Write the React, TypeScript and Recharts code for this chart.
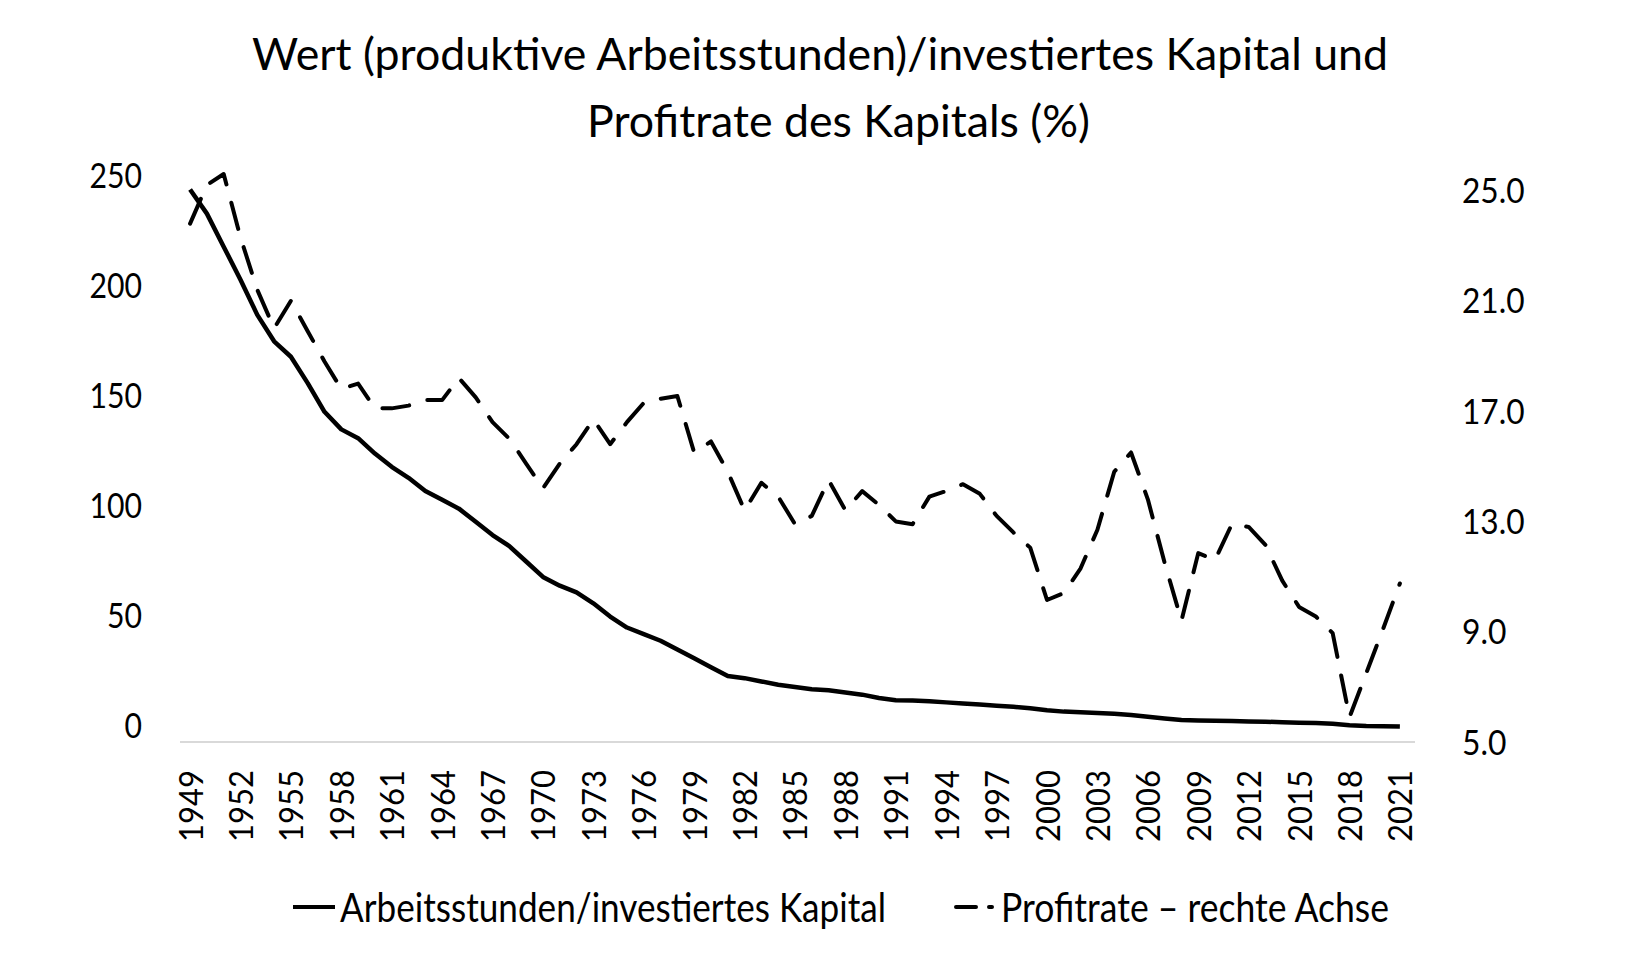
import { LineChart, Line, XAxis, YAxis, Legend } from "recharts";

const years = [
  1949, 1950, 1951, 1952, 1953, 1954, 1955, 1956, 1957, 1958,
  1959, 1960, 1961, 1962, 1963, 1964, 1965, 1966, 1967, 1968,
  1969, 1970, 1971, 1972, 1973, 1974, 1975, 1976, 1977, 1978,
  1979, 1980, 1981, 1982, 1983, 1984, 1985, 1986, 1987, 1988,
  1989, 1990, 1991, 1992, 1993, 1994, 1995, 1996, 1997, 1998,
  1999, 2000, 2001, 2002, 2003, 2004, 2005, 2006, 2007, 2008,
  2009, 2010, 2011, 2012, 2013, 2014, 2015, 2016, 2017, 2018,
  2019, 2020, 2021,
];

// linke Achse
const arbeitsstunden = [
  251, 240, 225, 210, 194, 182, 175, 163, 150, 142,
  138, 131, 125, 120, 114, 110, 106, 100, 94, 89,
  82, 75, 71, 68, 63, 57, 52, 49, 46, 42,
  38, 34, 30, 29, 27.5, 26, 25, 24, 23.5, 22.5,
  21.5, 20, 19, 18.8, 18.5, 18, 17.5, 17, 16.5, 16,
  15.3, 14.4, 13.8, 13.5, 13.2, 12.8, 12.3, 11.5, 10.7, 10,
  9.8, 9.6, 9.5, 9.3, 9.2, 9.0, 8.8, 8.6, 8.3, 7.6,
  7.3, 7.2, 7.0,
];

// rechte Achse
const profitrate = [
  23.8, 25.2, 25.6, 23.3, 21.4, 20.0, 21.0, 19.9, 18.8, 17.8,
  18.0, 17.1, 17.1, 17.2, 17.4, 17.4, 18.2, 17.5, 16.6, 16.0,
  15.1, 14.2, 15.1, 15.8, 16.7, 15.8, 16.6, 17.3, 17.45, 17.55,
  15.5, 15.9, 14.8, 13.4, 14.4, 13.9, 12.9, 13.2, 14.5, 13.4,
  14.1, 13.6, 13.0, 12.9, 13.9, 14.1, 14.35, 14.0, 13.2, 12.6,
  12.05, 10.15, 10.4, 11.3, 12.7, 14.8, 15.5, 13.8, 11.5, 9.4,
  11.85, 11.6, 12.9, 12.8, 12.15, 10.85, 9.9, 9.55, 8.95, 5.9,
  7.5, 9.1, 10.75,
];

const yearTicks = [
  1949, 1952, 1955, 1958, 1961, 1964, 1967, 1970, 1973, 1976, 1979, 1982, 1985,
  1988, 1991, 1994, 1997, 2000, 2003, 2006, 2009, 2012, 2015, 2018, 2021,
];
const leftTicks = [0, 50, 100, 150, 200, 250];
const rightTicks = [5, 9, 13, 17, 21, 25];

const titleLines = [
  "Wert (produktive Arbeitsstunden)/investiertes Kapital und",
  "Profitrate des Kapitals (%)",
];

const data = years.map((year, i) => ({
  year,
  stunden: arbeitsstunden[i],
  profit: profitrate[i],
}));

const FONT = "Lato, 'Open Sans', sans-serif";

function YearTick({ x, y, payload }: any) {
  return (
    <g transform={`translate(${x},${y + 20})`}>
      <text
        transform="rotate(-90)"
        textAnchor="end"
        dominantBaseline="central"
        fontFamily={FONT}
        fontSize={32}
        fill="#000"
        textLength={72}
        lengthAdjust="spacingAndGlyphs"
      >
        {payload.value}
      </text>
    </g>
  );
}

function LeftTick({ x, y, payload }: any) {
  const label = String(payload.value);
  return (
    <text
      x={x - 30}
      y={y - 18}
      textAnchor="end"
      dominantBaseline="central"
      fontFamily={FONT}
      fontSize={35}
      fill="#000"
      textLength={label.length * 17.5}
      lengthAdjust="spacingAndGlyphs"
    >
      {label}
    </text>
  );
}

function RightTick({ x, y, payload }: any) {
  const label = Number(payload.value).toFixed(1);
  return (
    <text
      x={x + 39}
      y={y - 1}
      textAnchor="start"
      dominantBaseline="central"
      fontFamily={FONT}
      fontSize={34}
      fill="#000"
      textLength={(label.length - 1) * 18.2 + 8}
      lengthAdjust="spacingAndGlyphs"
    >
      {label}
    </text>
  );
}

function LegendContent({ payload }: any) {
  const items = payload || [];
  return (
    <svg width={1643} height={90} style={{ display: "block" }}>
      <line x1={293} y1={45} x2={335} y2={45} stroke="#000" strokeWidth={4} />
      <text
        x={340}
        y={60}
        fontFamily={FONT}
        fontSize={40}
        fill="#000"
        textLength={546}
        lengthAdjust="spacingAndGlyphs"
      >
        {items[0] ? items[0].value : ""}
      </text>
      <line
        x1={956}
        y1={45}
        x2={992}
        y2={45}
        stroke="#000"
        strokeWidth={4}
        strokeDasharray="20 13"
        strokeLinecap="round"
      />
      <text
        x={1001}
        y={60}
        fontFamily={FONT}
        fontSize={40}
        fill="#000"
        textLength={388}
        lengthAdjust="spacingAndGlyphs"
      >
        {items[1] ? items[1].value : ""}
      </text>
    </svg>
  );
}

export default function App() {
  return (
    <div style={{ position: "absolute", left: 0, top: 0, width: 1643, height: 957, background: "#fff" }}>
      <LineChart
        width={1643}
        height={957}
        data={data}
        margin={{ top: 174, right: 0, bottom: 105, left: 0 }}
      >
        <XAxis
          dataKey="year"
          type="number"
          domain={[1948.4, 2021.9]}
          ticks={yearTicks}
          interval={0}
          height={110}
          tickLine={false}
          axisLine={{ stroke: "#d9d9d9", strokeWidth: 2 }}
          tick={<YearTick />}
        />
        <YAxis
          yAxisId="left"
          domain={[0, 258]}
          ticks={leftTicks}
          interval={0}
          width={180}
          axisLine={false}
          tickLine={false}
          tick={<LeftTick />}
        />
        <YAxis
          yAxisId="right"
          orientation="right"
          domain={[5, 25.6]}
          ticks={rightTicks}
          interval={0}
          width={228}
          axisLine={false}
          tickLine={false}
          tick={<RightTick />}
        />
        <Legend
          layout="horizontal"
          verticalAlign="middle"
          align="center"
          wrapperStyle={{ top: 862, left: 0, width: 1643, height: 90 }}
          content={<LegendContent />}
        />
        <Line
          yAxisId="left"
          dataKey="stunden"
          name="Arbeitsstunden/investiertes Kapital"
          stroke="#000"
          strokeWidth={4.5}
          strokeLinejoin="round"
          dot={false}
          isAnimationActive={false}
        />
        <Line
          yAxisId="right"
          dataKey="profit"
          name="Profitrate – rechte Achse"
          stroke="#000"
          strokeWidth={4}
          strokeDasharray="27 19"
          strokeLinecap="round"
          strokeLinejoin="round"
          dot={false}
          isAnimationActive={false}
        />
      </LineChart>
      <svg
        width={1643}
        height={160}
        style={{ position: "absolute", left: 0, top: 0, pointerEvents: "none" }}
      >
        <text x={252} y={70} fontFamily={FONT} fontSize={44} fill="#000" textLength={1136} lengthAdjust="spacingAndGlyphs">
          {titleLines[0]}
        </text>
        <text x={587} y={137} fontFamily={FONT} fontSize={44} fill="#000" textLength={503} lengthAdjust="spacingAndGlyphs">
          {titleLines[1]}
        </text>
      </svg>
    </div>
  );
}
